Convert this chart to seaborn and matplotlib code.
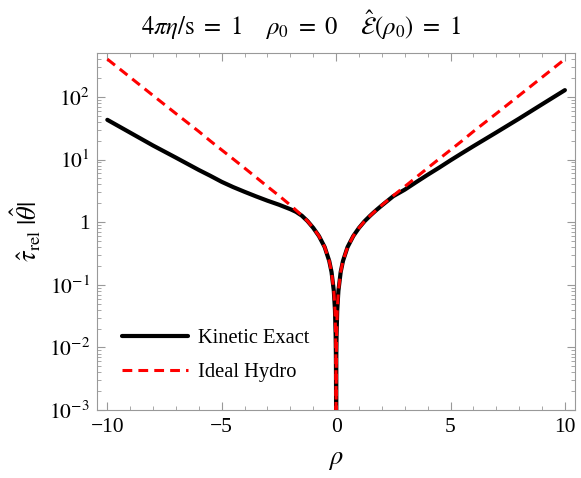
import numpy as np
import pandas as pd
import matplotlib
matplotlib.use("Agg")
import matplotlib.pyplot as plt
import seaborn as sns

### data (log-scale values)
rho_pos = [0.0012, 0.002, 0.005, 0.01, 0.02, 0.05, 0.1, 0.2, 0.3, 0.5, 0.75, 1.0, 1.25,
           1.5, 1.75, 2.0, 2.5, 3.0, 3.5, 4.0, 4.5, 5.0, 5.5, 6.0, 7.0, 8.0, 9.0, 10.0]
hydro_pos = [0.001, 0.0016, 0.004, 0.008, 0.016, 0.04, 0.08, 0.16, 0.24, 0.40, 0.60, 0.81, 1.04,
             1.28, 1.55, 1.87, 2.65, 3.7, 5.2, 7.3, 10.2, 14.2, 19.8, 28, 54, 105, 205, 400]

# kinetic exact: left branch (rho < 0) and right branch (rho > 0)
kin_left = [0.001, 0.0016, 0.004, 0.008, 0.016, 0.04, 0.08, 0.16, 0.24, 0.40, 0.60, 0.81, 1.04,
            1.27, 1.46, 1.61, 1.9, 2.2, 2.58, 3.05, 3.63, 4.4, 5.5, 6.8, 10.7, 16.7, 26.8, 43]
kin_right = [0.001, 0.0016, 0.004, 0.008, 0.016, 0.04, 0.08, 0.16, 0.24, 0.40, 0.60, 0.81, 1.04,
             1.28, 1.55, 1.85, 2.6, 3.3, 4.35, 5.7, 7.4, 9.7, 12.6, 16.3, 27, 45, 76, 128]

rho = [-r for r in rho_pos[::-1]] + [0.0] + rho_pos
hydro = hydro_pos[::-1] + [1e-5] + hydro_pos
kinetic = kin_left[::-1] + [1e-5] + kin_right

df = pd.DataFrame({"rho": rho, "hydro": hydro, "kinetic": kinetic})

### plot
sns.set_theme(style="ticks")
plt.rcParams["font.family"] = ["Liberation Serif", "DejaVu Serif"]
plt.rcParams["mathtext.fontset"] = "stix"
plt.rcParams["text.color"] = "black"
plt.rcParams["axes.labelcolor"] = "black"
plt.rcParams["xtick.labelcolor"] = "black"
plt.rcParams["ytick.labelcolor"] = "black"

fig, ax = plt.subplots(figsize=(5.81, 4.78), dpi=100)
fig.subplots_adjust(left=0.167, right=0.990, top=0.889, bottom=0.142)

sns.lineplot(data=df, x="rho", y="kinetic", ax=ax, color="black", linewidth=3.0,
             label="Kinetic Exact", zorder=2)
sns.lineplot(data=df, x="rho", y="hydro", ax=ax, color="#ff0000", linewidth=2.2,
             linestyle=(0, (3.2, 2.0)), label="Ideal Hydro", zorder=3)

ax.set_yscale("log")
ax.set_xlim(-10.45, 10.45)
ax.set_ylim(1e-3, 5e2)

ax.set_xticks([-10, -5, 0, 5, 10])
ax.set_xticklabels(["\u221210", "\u22125", "0", "5", "10"])
ax.set_xticks(np.arange(-10, 11, 1), minor=True)
ax.set_yticks([1e-3, 1e-2, 1e-1, 1, 10, 100])
ax.set_yticklabels([r"$10^{-3}$", r"$10^{-2}$", r"$10^{-1}$", "1", r"$10^{1}$", r"$10^{2}$"])

for s in ax.spines.values():
    s.set_color("#999999")
    s.set_linewidth(0.8)
ax.tick_params(which="both", direction="in", top=True, right=True, color="#999999",
               labelsize=15.5, labelcolor="black")
ax.tick_params(which="major", length=6, width=0.8)
ax.tick_params(which="minor", length=3, width=0.6)
ax.tick_params(axis="x", pad=6)
ax.tick_params(axis="y", pad=5)

ax.set_xlabel(r"$\rho$", fontsize=19, labelpad=9, color="black")
ax.set_ylabel(r"$\hat{\tau}_{\mathrm{rel}}\;|\hat{\theta}|$", fontsize=19, labelpad=4,
              color="black")
fig.text(0.518, 0.947,
         r"$4\pi\eta/\mathrm{s}\ =\ 1\quad\ \rho_0\ =\ 0\quad\ \hat{\mathcal{E}}(\rho_0)\ =\ 1$",
         fontsize=17.8, ha="center", va="center", color="black")

ax.legend(loc="center left", bbox_to_anchor=(0.052, 0.154), frameon=False, fontsize=14.8,
          handlelength=3.2, labelspacing=0.7, handletextpad=0.5, borderpad=0,
          borderaxespad=0, labelcolor="black")

fig.savefig("out.png", dpi=100)
